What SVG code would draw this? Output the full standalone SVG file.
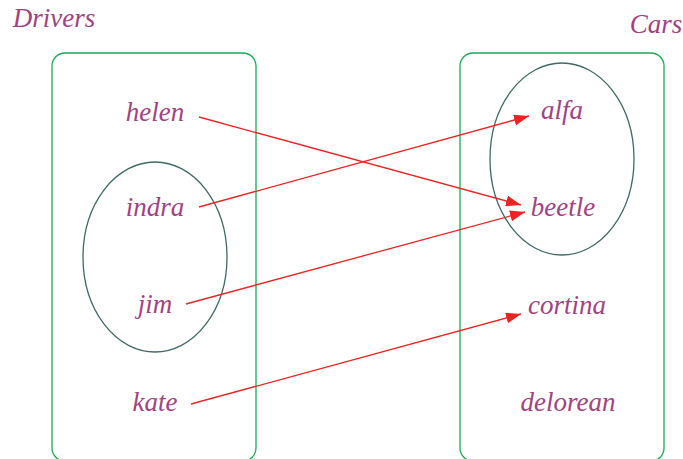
<svg xmlns="http://www.w3.org/2000/svg" width="683" height="459" viewBox="0 0 683 459">
<style>
.t{font-family:"Liberation Serif","DejaVu Serif",serif;font-style:italic;font-size:27px;fill:#a2437f;text-anchor:middle}
.box{fill:none;stroke:#1aaa55;stroke-width:1.3}
.ell{fill:none;stroke:#3f6a66;stroke-width:1.3}
.c{stroke:#ee2222;stroke-width:1.3;fill:none;marker-end:url(#ah)}
</style>
<defs>
<marker id="ah" viewBox="0 0 15 11" refX="15" refY="5.5" markerWidth="15" markerHeight="11" markerUnits="userSpaceOnUse" orient="auto">
<path d="M0,0 L15,5.5 L0,11 z" fill="#ee2222"/>
</marker>
</defs>
<rect width="683" height="459" fill="#fff"/>
<text class="t" x="54" y="27">Drivers</text>
<text class="t" x="656" y="33">Cars</text>
<g id="drivers">
<rect class="box" x="52" y="53" width="204" height="408" rx="13"/>
<ellipse class="ell" cx="155" cy="257" rx="72" ry="95"/>
</g>
<g id="cars">
<rect class="box" x="460" y="53" width="204" height="408" rx="13"/>
<ellipse class="ell" cx="562" cy="159" rx="72" ry="96"/>
</g>
<g id="helen"><text class="t" x="155" y="121">helen</text></g>
<g id="indra"><text class="t" x="155" y="216">indra</text></g>
<g id="jim"><text class="t" x="155" y="313">jim</text></g>
<g id="kate"><text class="t" x="155" y="411">kate</text></g>
<g id="alfa"><text class="t" x="562" y="119">alfa</text></g>
<g id="beetle"><text class="t" x="563" y="216">beetle</text></g>
<g id="cortina"><text class="t" x="567" y="314">cortina</text></g>
<g id="delorean"><text class="t" x="568" y="411">delorean</text></g>
<g id="connectors">
<path class="c" d="M199,117 L521,205"/>
<path class="c" d="M199,207 L529,116"/>
<path class="c" d="M186,304 L525,212"/>
<path class="c" d="M191,404 L521,314"/>
</g>
</svg>
